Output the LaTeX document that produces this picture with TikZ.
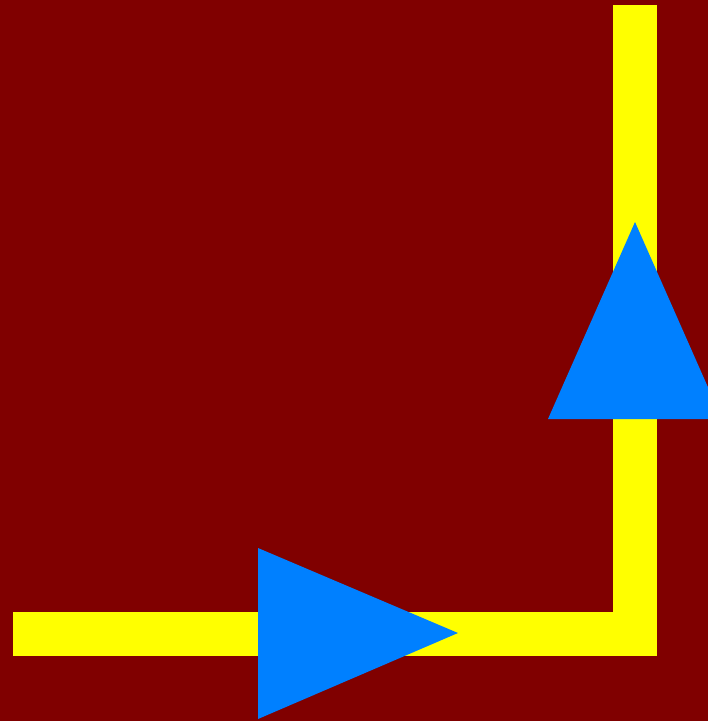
\documentclass[tikz,border=0pt]{standalone}
\usetikzlibrary{positioning}
\definecolor{bgred}{HTML}{800000}
\definecolor{track}{HTML}{FFFF00}
\definecolor{tipblue}{HTML}{0080FF}

\begin{document}
\begin{tikzpicture}[x=0.03cm, y=-0.03cm,
  trackline/.style={draw=track, line width=1.32cm, line cap=butt, line join=miter},
  flowtip/.style={fill=tipblue, draw=none}]
  % background and fixed frame
  \fill[bgred] (0,0) rectangle (708,721);
  \useasboundingbox (0,0) rectangle (708,721);
  \coordinate (start) at (13,634);
  \coordinate (corner) at (635,634);
  \coordinate (finish) at (635,5);
  \draw[trackline] (start) -- (corner) -- (finish);
  % direction markers
  \begin{scope}
    \clip (0,0) rectangle (708,721);
    \fill[flowtip] (258,548) -- (458,633) -- (258,719) -- cycle;
    \fill[flowtip] (548,419) -- (635,222) -- (722,419) -- cycle;
  \end{scope}
\end{tikzpicture}
\end{document}
